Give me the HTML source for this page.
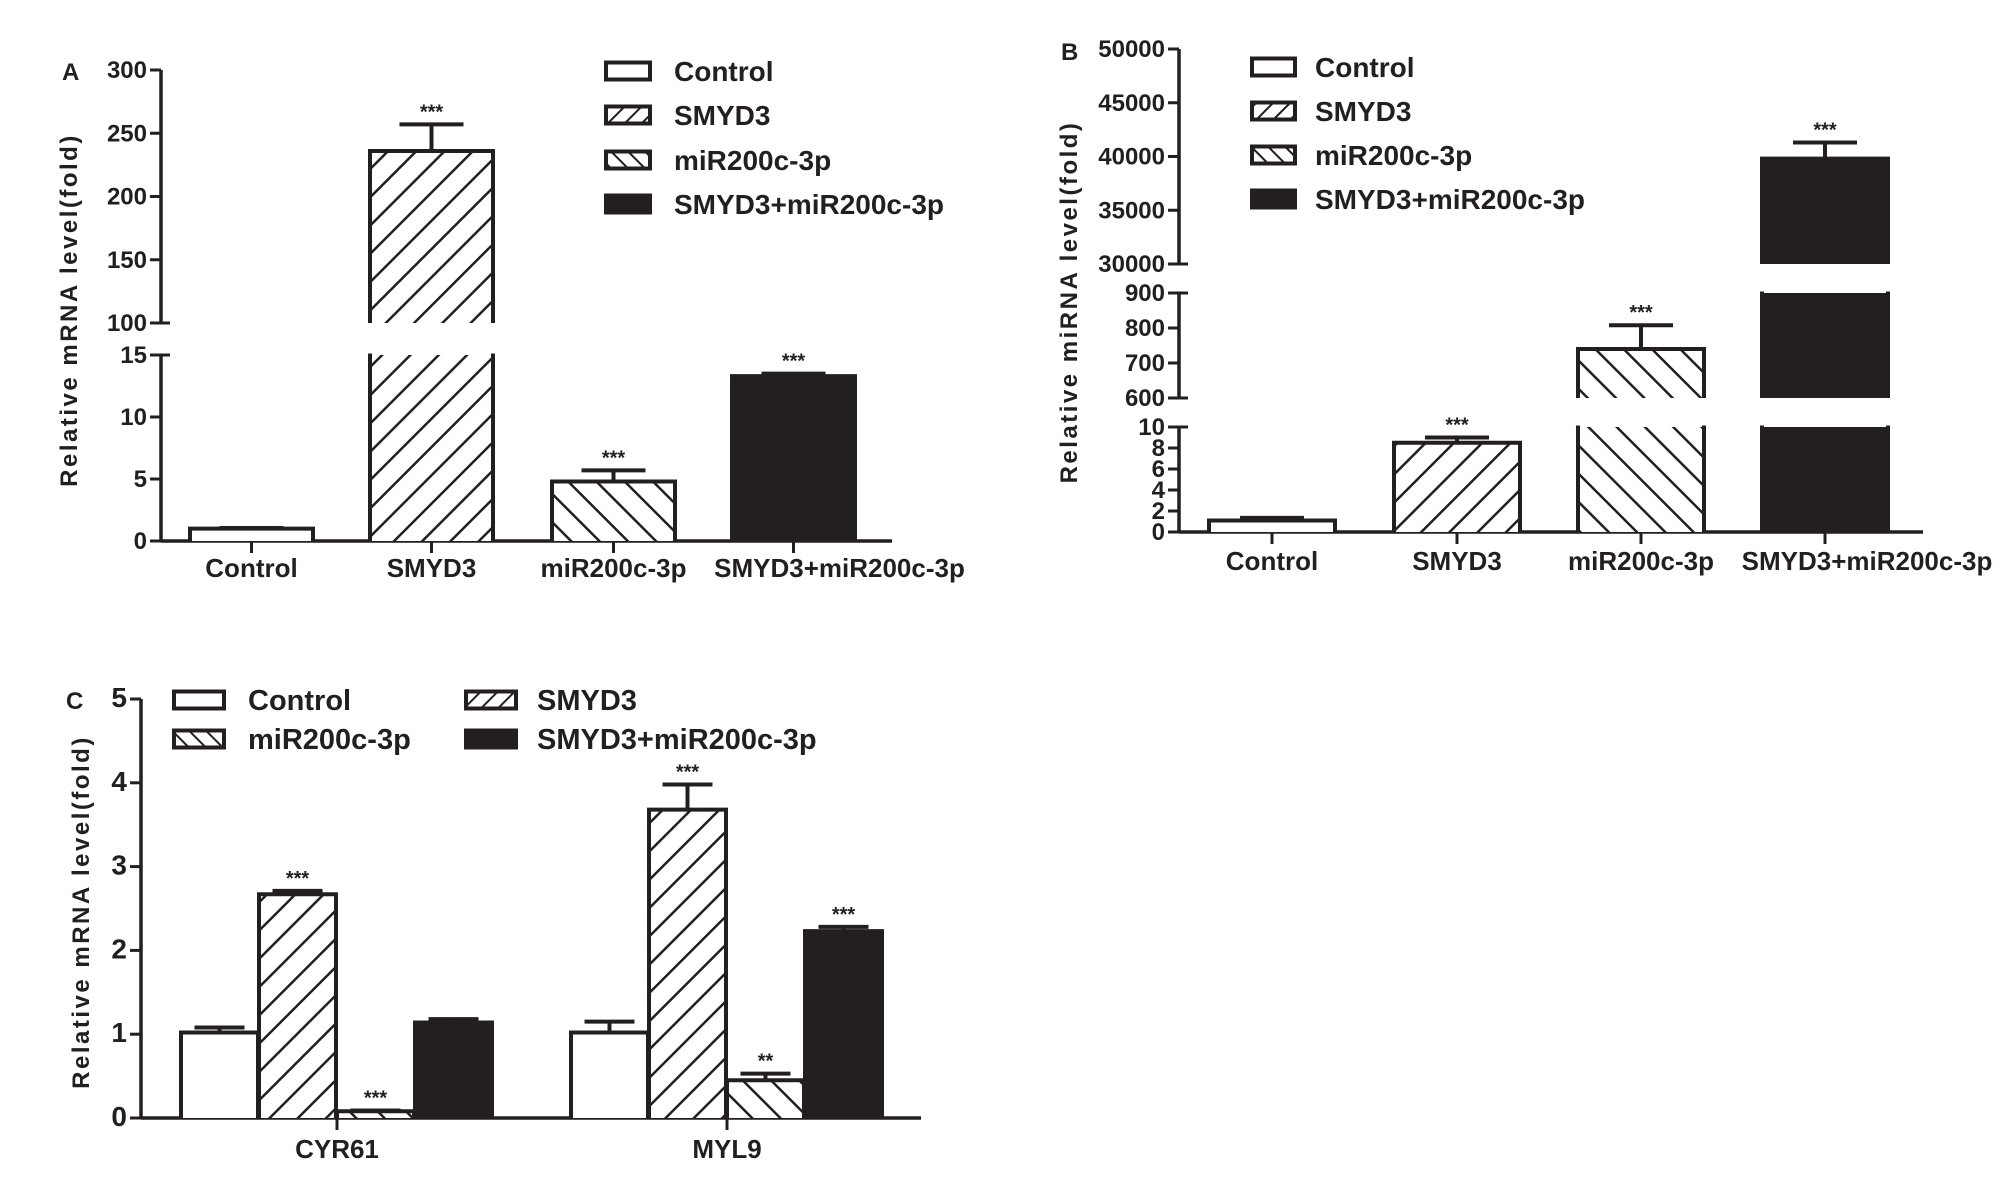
<!DOCTYPE html>
<html><head><meta charset="utf-8"><style>
html,body{margin:0;padding:0;background:#fff;}
svg{display:block;}
text{font-family:"Liberation Sans",Arial,sans-serif;font-weight:bold;fill:#231f20;}
</style></head><body>
<svg id="fig" width="2008" height="1181" viewBox="0 0 2008 1181" xmlns="http://www.w3.org/2000/svg">
<defs>
<pattern id="hatchF" patternUnits="userSpaceOnUse" width="20" height="20" patternTransform="rotate(45)">
<rect width="20" height="20" fill="#fff"/><line x1="0" y1="0" x2="0" y2="20" stroke="#231f20" stroke-width="5"/></pattern>
<pattern id="hatchB" patternUnits="userSpaceOnUse" width="20" height="20" patternTransform="rotate(-45)">
<rect width="20" height="20" fill="#fff"/><line x1="0" y1="0" x2="0" y2="20" stroke="#231f20" stroke-width="5"/></pattern>
<pattern id="hatchFs" patternUnits="userSpaceOnUse" width="12" height="12" patternTransform="rotate(45)">
<rect width="12" height="12" fill="#fff"/><line x1="0" y1="0" x2="0" y2="12" stroke="#231f20" stroke-width="4"/></pattern>
<pattern id="hatchBs" patternUnits="userSpaceOnUse" width="12" height="12" patternTransform="rotate(-45)">
<rect width="12" height="12" fill="#fff"/><line x1="0" y1="0" x2="0" y2="12" stroke="#231f20" stroke-width="4"/></pattern>
</defs>
<g id="root"></g>
</svg>
<script>
// ---- data ----
const seriesNames = ["Control","SMYD3","miR200c-3p","SMYD3+miR200c-3p"];
const aCategories = ["Control","SMYD3","miR200c-3p","SMYD3+miR200c-3p"];
const aValues = [1.0, 236, 4.8, 13.3];
const aErrors = [1.05, 257, 5.7, 13.5];
const aStars = ["", "***", "***", "***"];
const aTicksUpper = [100,150,200,250,300];
const aTicksLower = [0,5,10,15];

const bCategories = ["Control","SMYD3","miR200c-3p","SMYD3+miR200c-3p"];
const bValues = [1.1, 8.5, 740, 39800];
const bErrors = [1.35, 9.0, 808, 41300];
const bStars = ["", "***", "***", "***"];
const bTicksUpper = [30000,35000,40000,45000,50000];
const bTicksMid = [600,700,800,900];
const bTicksLower = [0,2,4,6,8,10];

const cCategories = ["CYR61","MYL9"];
const cControl = [1.02, 1.02];
const cControlErr = [1.08, 1.15];
const cSMYD3 = [2.67, 3.68];
const cSMYD3Err = [2.71, 3.98];
const cMiR = [0.08, 0.45];
const cMiRErr = [0.09, 0.53];
const cCombo = [1.14, 2.23];
const cComboErr = [1.18, 2.28];
const cStarsCtrl = ["",""];
const cStarsSMYD3 = ["***","***"];
const cStarsMiR = ["***","**"];
const cStarsCombo = ["","***"];
const cTicks = [0,1,2,3,4,5];

// ---- helpers ----
const NS="http://www.w3.org/2000/svg";
const root=document.getElementById('root');
function el(tag,attrs,parent){const e=document.createElementNS(NS,tag);for(const k in attrs)e.setAttribute(k,attrs[k]);(parent||root).appendChild(e);return e;}
const INK="#231f20";
const fills=["#fff","url(#hatchF)","url(#hatchB)",INK];
const fillsSmall=["#fff","url(#hatchFs)","url(#hatchBs)",INK];

function makeScale(segs){
  return function(v){
    for(const s of segs){ if(v>=s.lo&&v<=s.hi) return s.y0+(v-s.lo)/(s.hi-s.lo)*(s.y1-s.y0); }
    const last=segs[segs.length-1]; return last.y1;
  };
}
function drawAxis(g,axisX,segs,ticksArr,fs){
  segs.forEach((s,i)=>{
    const ln=el('line',{x1:axisX,y1:s.y0,x2:axisX,y2:s.y1,stroke:INK,'stroke-width':3.5},g);
    
    
    ticksArr[i].forEach(t=>{
      const y=s.y0+(t-s.lo)/(s.hi-s.lo)*(s.y1-s.y0);
      const tk=el('line',{x1:axisX-11,y1:y,x2:axisX,y2:y,stroke:INK,'stroke-width':3},g);
      
      
      if(segs.length>1 && (t===s.lo&&i>0 || t===s.hi&&i<segs.length-1)){
        const e2=el('line',{x1:axisX,y1:y,x2:axisX+9,y2:y,stroke:INK,'stroke-width':3},g);
        
        
      }
      const tx=el('text',{x:axisX-14,y:y+8,'text-anchor':'end','font-size':fs},g);
      tx.textContent=t;
      
      
    });
  });
}
function drawBar(g,segs,x0,x1,v,err,fill,star,capW){
  segs.forEach(s=>{
    if(v<=s.lo) return;
    const top=Math.min(v,s.hi);
    const yb=s.y0+0, yt=s.y0+(top-s.lo)/(s.hi-s.lo)*(s.y1-s.y0);
    const r=el('rect',{x:x0,y:yt,width:x1-x0,height:yb-yt,fill:fill},g);
    
    
    el('line',{x1:x0,y1:yb,x2:x0,y2:yt-1.5,stroke:INK,'stroke-width':4},g);
    el('line',{x1:x1,y1:yb,x2:x1,y2:yt-1.5,stroke:INK,'stroke-width':4},g);
    if(v<=s.hi) el('line',{x1:x0-2,y1:yt,x2:x1+2,y2:yt,stroke:INK,'stroke-width':4},g);
  });
  const sc=makeScale(segs);
  const yv=sc(v), ye=sc(err), cx=(x0+x1)/2;
  const eb=el('line',{x1:cx,y1:yv,x2:cx,y2:ye,stroke:INK,'stroke-width':4},g);
  
  
  const cap=el('line',{x1:cx-capW/2,y1:ye,x2:cx+capW/2,y2:ye,stroke:INK,'stroke-width':4},g);
  
  
  if(star){
    const st=el('text',{x:cx,y:ye-6,'text-anchor':'middle','font-size':20,fill:'#555','font-weight':'normal'},g);
    st.textContent=star;
    
    
  }
}
function legendEntry(g,x,y,w,h,fill,label,tx,fs){
  const b=el('rect',{x:x,y:y-h/2,width:w,height:h,fill:fill,stroke:INK,'stroke-width':4},g);
  
  
  const t=el('text',{x:tx,y:y+10,'font-size':fs},g);
  t.textContent=label;
  
  
}
function text(g,x,y,s,fs,name,anchor,extra){
  const t=el('text',Object.assign({x:x,y:y,'font-size':fs,'text-anchor':anchor||'start'},extra||{}),g);
  t.textContent=s;
  
  
  return t;
}

// ---- Panel A ----
(function(){
  const g=el('g',{});
  
  
  const axisX=161;
  const segs=[{lo:0,hi:15,y0:541,y1:355},{lo:100,hi:300,y0:323,y1:70}];
  drawAxis(g,axisX,segs,[aTicksLower,aTicksUpper],24);
  const xl=el('line',{x1:axisX,y1:541,x2:892,y2:541,stroke:INK,'stroke-width':3.5},g);
  
  
  const xs=[190,370,552,732], bw=123;
  const labelShift=[0,0,0,46];
  aCategories.forEach((c,i)=>{
    const cx=xs[i]+bw/2;
    el('line',{x1:cx,y1:541,x2:cx,y2:553,stroke:INK,'stroke-width':3},g);
    drawBar(g,segs,xs[i],xs[i]+bw,aValues[i],aErrors[i],fills[i],aStars[i],64);
    text(g,cx+labelShift[i],577,c,26,'x-tick-label','middle');
  });
  text(g,62,80,'A',24,'panel-label');
  text(g,0,0,'Relative mRNA level(fold)',24,'y-axis-title','middle',{transform:'translate(77,310) rotate(-90)','letter-spacing':'2.5'});
  const lx=606;
  [71,115,160,204].forEach((y,i)=>legendEntry(g,lx,y,44,17,fillsSmall[i],seriesNames[i],674,28));
})();

// ---- Panel B ----
(function(){
  const g=el('g',{});
  
  
  const axisX=1179;
  const segs=[{lo:0,hi:10,y0:532,y1:427},{lo:600,hi:900,y0:398,y1:293},{lo:30000,hi:50000,y0:264,y1:49}];
  drawAxis(g,axisX,segs,[bTicksLower,bTicksMid,bTicksUpper],24);
  const xl=el('line',{x1:axisX,y1:532,x2:1923,y2:532,stroke:INK,'stroke-width':3.5},g);
  
  
  const xs=[1209,1394,1578,1762], bw=126;
  const labelShift=[0,0,0,42];
  bCategories.forEach((c,i)=>{
    const cx=xs[i]+bw/2;
    el('line',{x1:cx,y1:532,x2:cx,y2:544,stroke:INK,'stroke-width':3},g);
    drawBar(g,segs,xs[i],xs[i]+bw,bValues[i],bErrors[i],fills[i],bStars[i],64);
    text(g,cx+labelShift[i],570,c,26,'x-tick-label','middle');
  });
  text(g,1061,60,'B',24,'panel-label');
  text(g,0,0,'Relative miRNA level(fold)',24,'y-axis-title','middle',{transform:'translate(1077,302) rotate(-90)','letter-spacing':'2.5'});
  [67,111,155,199].forEach((y,i)=>legendEntry(g,1252,y,43,17,fillsSmall[i],seriesNames[i],1315,28));
})();

// ---- Panel C ----
(function(){
  const g=el('g',{});
  
  
  const axisX=141;
  const segs=[{lo:0,hi:5,y0:1118,y1:699}];
  drawAxis(g,axisX,segs,[cTicks],28);
  const xl=el('line',{x1:axisX,y1:1118,x2:921,y2:1118,stroke:INK,'stroke-width':3.5},g);
  
  
  const groupStart=[181,571], bw=77;
  const vals=[cControl,cSMYD3,cMiR,cCombo];
  const errs=[cControlErr,cSMYD3Err,cMiRErr,cComboErr];
  const stars=[cStarsCtrl,cStarsSMYD3,cStarsMiR,cStarsCombo];
  cCategories.forEach((c,k)=>{
    for(let i=0;i<4;i++){
      const x0=groupStart[k]+i*78;
      drawBar(g,segs,x0,x0+bw,vals[i][k],errs[i][k],fills[i],stars[i][k],50);
    }
    const cx=groupStart[k]+156;
    el('line',{x1:cx,y1:1118,x2:cx,y2:1130,stroke:INK,'stroke-width':3},g);
    text(g,cx,1158,c,26,'x-tick-label','middle');
  });
  text(g,66,709,'C',24,'panel-label');
  text(g,0,0,'Relative mRNA level(fold)',24,'y-axis-title','middle',{transform:'translate(89,912) rotate(-90)','letter-spacing':'2.5'});
  legendEntry(g,174,700,50,17,fillsSmall[0],seriesNames[0],248,29);
  legendEntry(g,174,739,50,17,fillsSmall[2],seriesNames[2],248,29);
  legendEntry(g,466,700,50,17,fillsSmall[1],seriesNames[1],537,29);
  legendEntry(g,466,739,50,17,fillsSmall[3],seriesNames[3],537,29);
})();
</script>
</body></html>
